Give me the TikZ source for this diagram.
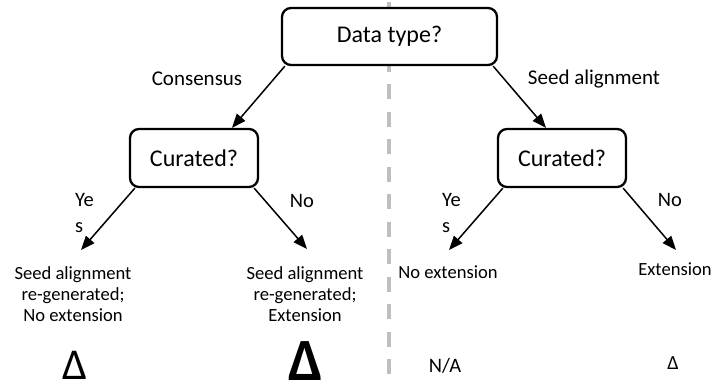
\documentclass[tikz,border=0pt]{standalone}
\usepackage{fontspec}
\setmainfont{Carlito}
\usetikzlibrary{arrows.meta, positioning}

\begin{document}
\begin{tikzpicture}[x=1pt, y=1pt, >={Triangle[length=14pt, width=11pt]},
	question/.style={draw, rounded corners=9pt, line width=2.3pt, fill=white, font=\fontsize{24}{28}\selectfont},
	branch/.style={font=\fontsize{21}{25}\selectfont},
	answer/.style={font=\fontsize{20.5}{26}\selectfont, align=left, inner sep=0pt},
	outcome/.style={font=\fontsize{18.6}{21}\selectfont, align=center, inner sep=0pt, anchor=north},
	score/.style={inner sep=0pt, anchor=base},
	flow/.style={->, line width=1.5pt}]
	\useasboundingbox (0,0) rectangle (714,390);

	% divider between consensus and seed branches
	\draw[line width=4pt, black!25, dash pattern=on 15pt off 12.5pt] (389,388) -- (389,13);

	\node[question, minimum width=215pt, minimum height=57pt]	(type)	at (389.5,353.5)	{Data type?};
	\node[question, minimum width=128pt, minimum height=58pt]	(curL)	at (194,232)		{Curated?};
	\node[question, minimum width=128pt, minimum height=58pt]	(curR)	at (562,232)		{Curated?};

	\node[branch]	(consensus)	at (197,311)	{Consensus};
	\node[branch]	(seed)		at (594,311)	{Seed alignment};

	\node[answer, anchor=north west]	(yesL)	at (75,197)		{Ye\\s};
	\node[answer]						(noL)	at (302,189)	{No};
	\node[answer, anchor=north west]	(yesR)	at (442,197)	{Ye\\s};
	\node[answer]						(noR)	at (670,190)	{No};

	\node[outcome]	(regenNo)	at (73,124)		{Seed alignment\\re-generated;\\No extension};
	\node[outcome]	(regenExt)	at (305,124)	{Seed alignment\\re-generated;\\Extension};
	\node[outcome]	(keepNo)	at (448,124)	{No extension};
	\node[outcome]	(keepExt)	at (675,127)	{Extension};

	% scores under each outcome
	\node[score, font=\fontsize{44}{44}\selectfont]				(deltaA)	at (75,10)	{Δ};
	\node[score, font=\fontsize{60}{60}\selectfont\bfseries]	(deltaB)	at (306,9)	{Δ};
	\node[score, font=\fontsize{20.5}{24}\selectfont]			(na)		at (445,17)	{N/A};
	\node[score, font=\fontsize{20}{24}\selectfont]				(deltaC)	at (673,20)	{Δ};

	\draw[flow] ([xshift=4pt]type.south west)	-- ([xshift=38pt]curL.north);
	\draw[flow] ([xshift=-5pt]type.south east)	-- ([xshift=-16pt]curR.north);
	\draw[flow] ([xshift=6pt]curL.south west)	-- ([xshift=8pt, yshift=16pt]regenNo.north);
	\draw[flow] ([xshift=-5pt]curL.south east)	-- ([xshift=2pt, yshift=17pt]regenExt.north);
	\draw[flow] ([xshift=6pt]curR.south west)	-- ([xshift=1pt, yshift=16pt]keepNo.north);
	\draw[flow] ([xshift=-4pt]curR.south east)	-- ([xshift=1pt, yshift=13pt]keepExt.north);
\end{tikzpicture}
\end{document}
